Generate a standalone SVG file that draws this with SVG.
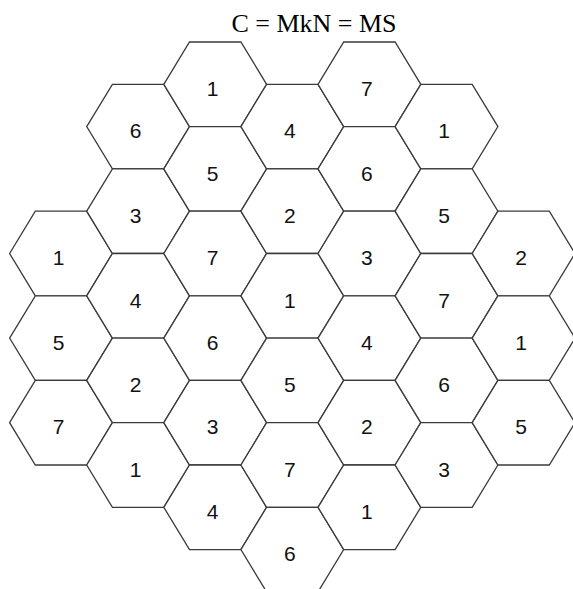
<svg xmlns="http://www.w3.org/2000/svg" xmlns:xlink="http://www.w3.org/1999/xlink" width="573" height="589" viewBox="0 0 573 589">
<style>
.hex{fill:#ffffff;stroke:#3a3a3a;stroke-width:1.3;stroke-linejoin:miter}
.lbl{font-family:"Liberation Sans",Arial,sans-serif;font-size:21px;fill:#111111;text-anchor:middle}
.title{font-family:"Liberation Serif","Times New Roman",serif;font-size:26px;fill:#000000;text-anchor:middle}
</style>
<defs>
<polygon id="hexshape" points="-51.4,0 -25.7,-42.3 25.7,-42.3 51.4,0 25.7,42.3 -25.7,42.3"/>
</defs>
<rect width="573" height="589" fill="#ffffff"/>
<text class="title" x="314" y="31.5">C = MkN = MS</text>
<g id="nodes">
<g id="c0r2" transform="translate(61,253.5)"><use xlink:href="#hexshape" class="hex"/><text class="lbl" x="-2.5" y="11.7">1</text></g>
<g id="c0r3" transform="translate(61,338.1)"><use xlink:href="#hexshape" class="hex"/><text class="lbl" x="-2.5" y="11.7">5</text></g>
<g id="c0r4" transform="translate(61,422.7)"><use xlink:href="#hexshape" class="hex"/><text class="lbl" x="-2.5" y="11.7">7</text></g>

<g id="c1r0" transform="translate(138.1,126.6)"><use xlink:href="#hexshape" class="hex"/><text class="lbl" x="-2.5" y="11.7">6</text></g>
<g id="c1r1" transform="translate(138.1,211.2)"><use xlink:href="#hexshape" class="hex"/><text class="lbl" x="-2.5" y="11.7">3</text></g>
<g id="c1r2" transform="translate(138.1,295.8)"><use xlink:href="#hexshape" class="hex"/><text class="lbl" x="-2.5" y="11.7">4</text></g>
<g id="c1r3" transform="translate(138.1,380.4)"><use xlink:href="#hexshape" class="hex"/><text class="lbl" x="-2.5" y="11.7">2</text></g>
<g id="c1r4" transform="translate(138.1,465)"><use xlink:href="#hexshape" class="hex"/><text class="lbl" x="-2.5" y="11.7">1</text></g>

<g id="c2r0" transform="translate(215.2,84.3)"><use xlink:href="#hexshape" class="hex"/><text class="lbl" x="-2.5" y="11.7">1</text></g>
<g id="c2r1" transform="translate(215.2,168.9)"><use xlink:href="#hexshape" class="hex"/><text class="lbl" x="-2.5" y="11.7">5</text></g>
<g id="c2r2" transform="translate(215.2,253.5)"><use xlink:href="#hexshape" class="hex"/><text class="lbl" x="-2.5" y="11.7">7</text></g>
<g id="c2r3" transform="translate(215.2,338.1)"><use xlink:href="#hexshape" class="hex"/><text class="lbl" x="-2.5" y="11.7">6</text></g>
<g id="c2r4" transform="translate(215.2,422.7)"><use xlink:href="#hexshape" class="hex"/><text class="lbl" x="-2.5" y="11.7">3</text></g>
<g id="c2r5" transform="translate(215.2,507.3)"><use xlink:href="#hexshape" class="hex"/><text class="lbl" x="-2.5" y="11.7">4</text></g>

<g id="c3r0" transform="translate(292.3,126.6)"><use xlink:href="#hexshape" class="hex"/><text class="lbl" x="-2.5" y="11.7">4</text></g>
<g id="c3r1" transform="translate(292.3,211.2)"><use xlink:href="#hexshape" class="hex"/><text class="lbl" x="-2.5" y="11.7">2</text></g>
<g id="c3r2" transform="translate(292.3,295.8)"><use xlink:href="#hexshape" class="hex"/><text class="lbl" x="-2.5" y="11.7">1</text></g>
<g id="c3r3" transform="translate(292.3,380.4)"><use xlink:href="#hexshape" class="hex"/><text class="lbl" x="-2.5" y="11.7">5</text></g>
<g id="c3r4" transform="translate(292.3,465)"><use xlink:href="#hexshape" class="hex"/><text class="lbl" x="-2.5" y="11.7">7</text></g>
<g id="c3r5" transform="translate(292.3,549.6)"><use xlink:href="#hexshape" class="hex"/><text class="lbl" x="-2.5" y="11.7">6</text></g>

<g id="c4r0" transform="translate(369.4,84.3)"><use xlink:href="#hexshape" class="hex"/><text class="lbl" x="-2.5" y="11.7">7</text></g>
<g id="c4r1" transform="translate(369.4,168.9)"><use xlink:href="#hexshape" class="hex"/><text class="lbl" x="-2.5" y="11.7">6</text></g>
<g id="c4r2" transform="translate(369.4,253.5)"><use xlink:href="#hexshape" class="hex"/><text class="lbl" x="-2.5" y="11.7">3</text></g>
<g id="c4r3" transform="translate(369.4,338.1)"><use xlink:href="#hexshape" class="hex"/><text class="lbl" x="-2.5" y="11.7">4</text></g>
<g id="c4r4" transform="translate(369.4,422.7)"><use xlink:href="#hexshape" class="hex"/><text class="lbl" x="-2.5" y="11.7">2</text></g>
<g id="c4r5" transform="translate(369.4,507.3)"><use xlink:href="#hexshape" class="hex"/><text class="lbl" x="-2.5" y="11.7">1</text></g>

<g id="c5r0" transform="translate(446.5,126.6)"><use xlink:href="#hexshape" class="hex"/><text class="lbl" x="-2.5" y="11.7">1</text></g>
<g id="c5r1" transform="translate(446.5,211.2)"><use xlink:href="#hexshape" class="hex"/><text class="lbl" x="-2.5" y="11.7">5</text></g>
<g id="c5r2" transform="translate(446.5,295.8)"><use xlink:href="#hexshape" class="hex"/><text class="lbl" x="-2.5" y="11.7">7</text></g>
<g id="c5r3" transform="translate(446.5,380.4)"><use xlink:href="#hexshape" class="hex"/><text class="lbl" x="-2.5" y="11.7">6</text></g>
<g id="c5r4" transform="translate(446.5,465)"><use xlink:href="#hexshape" class="hex"/><text class="lbl" x="-2.5" y="11.7">3</text></g>

<g id="c6r2" transform="translate(523.6,253.5)"><use xlink:href="#hexshape" class="hex"/><text class="lbl" x="-2.5" y="11.7">2</text></g>
<g id="c6r3" transform="translate(523.6,338.1)"><use xlink:href="#hexshape" class="hex"/><text class="lbl" x="-2.5" y="11.7">1</text></g>
<g id="c6r4" transform="translate(523.6,422.7)"><use xlink:href="#hexshape" class="hex"/><text class="lbl" x="-2.5" y="11.7">5</text></g>
</g>
<g id="connectors"/>
</svg>
